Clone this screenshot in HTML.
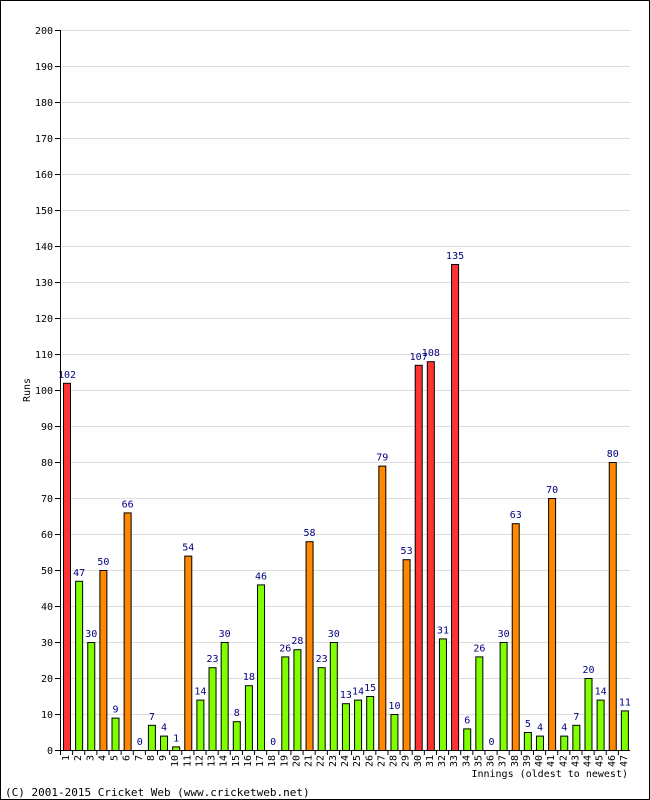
<!DOCTYPE html>
<html><head><meta charset="utf-8"><style>
body{margin:0;background:#fff}
svg{display:block;font-family:"DejaVu Sans Mono","Liberation Mono",monospace}
</style></head><body>
<svg id="c" width="650" height="800" viewBox="0 0 650 800">
<rect x="0.5" y="0.5" width="649" height="799" fill="#fff" stroke="#000"/>
<g id="grid"></g><g id="bars"></g><g id="axes"></g>
<text x="30" y="390" font-size="10" transform="rotate(-90 30 390)" text-anchor="middle">Runs</text>
<text x="628" y="777" font-size="10" text-anchor="end">Innings (oldest to newest)</text>
<text x="5" y="796" font-size="11">(C) 2001-2015 Cricket Web (www.cricketweb.net)</text>
</svg>
<script>
const innings=[1,2,3,4,5,6,7,8,9,10,11,12,13,14,15,16,17,18,19,20,21,22,23,24,25,26,27,28,29,30,31,32,33,34,35,36,37,38,39,40,41,42,43,44,45,46,47];
const runs=[102,47,30,50,9,66,0,7,4,1,54,14,23,30,8,18,46,0,26,28,58,23,30,13,14,15,79,10,53,107,108,31,135,6,26,0,30,63,5,4,70,4,7,20,14,80,11];
const yTicks=[0,10,20,30,40,50,60,70,80,90,100,110,120,130,140,150,160,170,180,190,200];
const NS="http://www.w3.org/2000/svg";
const x0=60,x1=630,yB=750,yT=30,maxY=200;
const slot=(x1-x0)/innings.length;
const y=v=>yB-(v/maxY)*(yB-yT);
const xs=i=>x0+i*slot;
function mk(t,a,p){const e=document.createElementNS(NS,t);for(const k in a)e.setAttribute(k,a[k]);document.getElementById(p).appendChild(e);return e;}
yTicks.forEach(v=>{
 let l=mk('line',{x1:x0,x2:x1,y1:y(v)+0.5,y2:y(v)+0.5,stroke:v?'#ddd':'#000'},'grid');
 
 
 let tk=mk('line',{x1:x0-5,x2:x0,y1:y(v)+0.5,y2:y(v)+0.5,stroke:'#000'},'axes');
 
 
 let t=mk('text',{x:x0-7,y:y(v)+4,'font-size':10,'text-anchor':'end'},'axes');
 t.textContent=v;
 
 
});
let ax=mk('line',{x1:x0+0.5,x2:x0+0.5,y1:yT,y2:yB,stroke:'#000'},'axes');


runs.forEach((v,i)=>{
 const col=v>=100?'#ff3333':v>=50?'#ff8800':'#80ff00';
 const bx=xs(i)+3;
 if(v>0){
  let r=mk('rect',{x:bx+0.5,y:y(v)+0.5,width:7,height:yB-y(v),fill:col,stroke:'#000'},'bars');
  
  
 }
 let t=mk('text',{x:bx+4,y:y(v)-5,'font-size':10,'text-anchor':'middle',fill:'#000080'},'bars');
 t.textContent=v;
 
 
 let tk=mk('line',{x1:xs(i)+0.5,x2:xs(i)+0.5,y1:yB,y2:yB+5,stroke:'#000'},'axes');
 
 
 const cx=xs(i)+slot/2+3, cy=yB+5;
 let l=mk('text',{x:cx,y:cy,'font-size':10,'text-anchor':'end',transform:`rotate(-90 ${cx} ${cy})`},'axes');
 l.textContent=innings[i];
 
 
});
let xa=mk('line',{x1:x0,x2:x1,y1:yB+0.5,y2:yB+0.5,stroke:'#000'},'axes');


</script>
</body></html>
